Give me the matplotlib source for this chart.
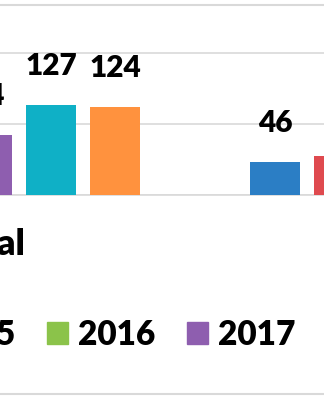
import matplotlib
matplotlib.use("Agg")
import matplotlib.pyplot as plt
import matplotlib.patches as mpatches
import numpy as np

plt.rcParams["font.family"] = ["Lato", "DejaVu Sans"]
plt.rcParams["font.weight"] = "bold"

# ── Data (values off-screen in the crop left as NaN) ─────────────────────────
CATEGORIES = ["National", "Regional"]
YEARS      = ["2014", "2015", "2016", "2017", "2018", "2019"]
VALUES = {
    "2014": [np.nan, 46],
    "2015": [np.nan, 55],
    "2016": [np.nan, np.nan],
    "2017": [84, np.nan],
    "2018": [127, np.nan],
    "2019": [124, np.nan],
}
COLORS = ["#2B7EC5", "#DF4A4F", "#8BC34A", "#8E5EAF", "#0FB0C6", "#FF923E"]
GRID_C = "#D9D9D9"

W, H = 324, 400
fig = plt.figure(figsize=(W / 100, H / 100), dpi=100)

# axes geometry in pixels (chart is a crop of a wider one)
x_lo, x_hi = -4, 10
px_per_x = 64
x0_px = -45 + x_lo * px_per_x
ax_w_px = (x_hi - x_lo) * px_per_x
base_px = 195
y_top = 300
ax_h_px = 0.709 * y_top
ax = fig.add_axes([x0_px / W, (H - base_px) / H, ax_w_px / W, ax_h_px / H])

group_step = 7.5
centers = np.arange(len(CATEGORIES)) * group_step
for s, yr in enumerate(YEARS):
    xs = centers + s - 2.5
    bars = ax.bar(xs, VALUES[yr], width=0.78, color=COLORS[s], label=yr,
                  zorder=3)
    ax.bar_label(bars, labels=["" if np.isnan(v) else f"{v:.0f}"
                               for v in VALUES[yr]],
                 padding=18, fontsize=21.5, fontweight="heavy", color="black")

ax.set_xlim(x_lo, x_hi)
ax.set_ylim(0, y_top)
ax.set_yticks([0, 100, 200, 300])
ax.set_yticklabels([])
ax.yaxis.grid(True, color=GRID_C, lw=1.2, zorder=0)
ax.tick_params(axis="both", length=0)
ax.set_xticks(centers)
ax.set_xticklabels(CATEGORIES, fontsize=26, fontweight="heavy")
ax.tick_params(axis="x", pad=24)
for sp in ["top", "left", "right"]:
    ax.spines[sp].set_visible(False)
ax.spines["bottom"].set_color(GRID_C)
ax.spines["bottom"].set_linewidth(1.2)

# legend (one row across the full original chart width)
handles = [mpatches.Patch(color=c) for c in COLORS]
fig.legend(handles, YEARS, loc="center left", ncol=6, frameon=False,
           bbox_to_anchor=(-232 / W, (H - 335) / H),
           prop={"family": ["Lato", "DejaVu Sans"], "weight": "heavy", "size": 24},
           borderpad=0, borderaxespad=0, handlelength=0.62, handleheight=0.62,
           handletextpad=0.3, columnspacing=0.95)

# chart-area border
fig.patches.append(mpatches.Rectangle((-50 / W, (H - 394) / H), 450 / W,
                                      389 / H, transform=fig.transFigure,
                                      fill=False, edgecolor=GRID_C, lw=1.5))

fig.savefig("out.png", dpi=100)
